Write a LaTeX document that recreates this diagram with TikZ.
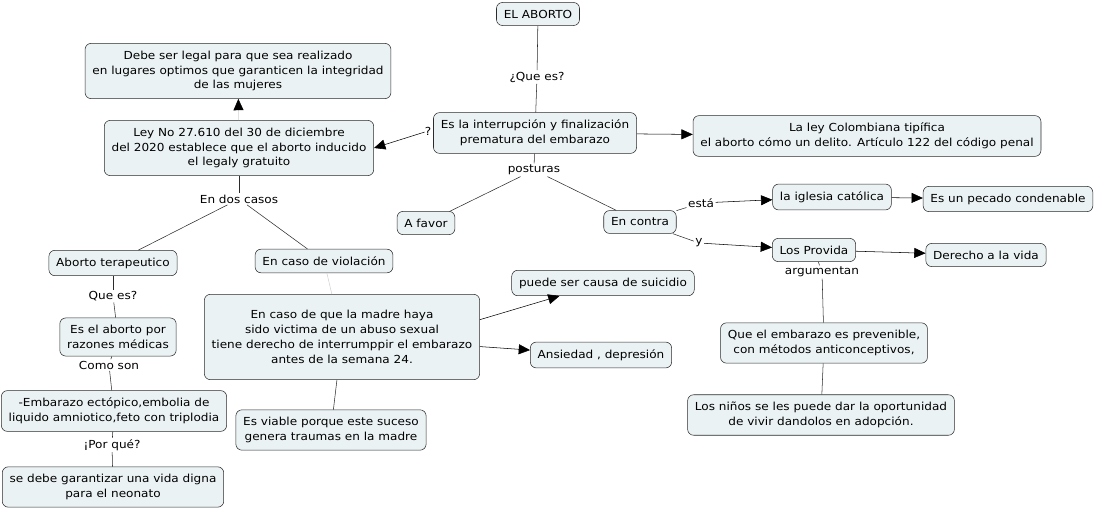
\documentclass[tikz,border=0pt]{standalone}
\usepackage{fontspec}
\setmainfont{DejaVu Sans}[FakeStretch=1.09]
\usepackage{xcolor}
\usetikzlibrary{arrows.meta,positioning}
\definecolor{boxfill}{HTML}{EBF2F4}
\definecolor{boxline}{HTML}{2B2B2B}
\newcommand{\mapfont}{\fontsize{8.3}{11.2}\selectfont}

\begin{document}
\begin{tikzpicture}[
  x=0.75pt, y=-0.75pt,
  box/.style={draw=boxline, fill=boxfill, rounded corners=4.5pt, align=center, inner xsep=5.5pt, inner ysep=5.5pt, font=\mapfont},
  lbl/.style={fill=white, inner sep=1pt, font=\mapfont},
  link/.style={draw=boxline},
  faint/.style={draw=black!18},
  arr/.style={-{Triangle[length=8.5pt, width=7.5pt, color=black]}, draw=black}
]
\useasboundingbox (0,0) rectangle (1097,510);
% centre and right
\node[box] (aborto) at (538,14) {EL ABORTO};
\node[box] (interr) at (535,133) {Es la interrupción y finalización\\prematura del embarazo};
\node[box] (ley) at (867,136) {La ley Colombiana tipífica\\el aborto cómo un delito. Artículo 122 del código penal};
\node[box] (afavor) at (426,223) {A favor};
\node[box] (contra) at (640,222) {En contra};
\node[box] (iglesia) at (832,197) {la iglesia católica};
\node[box] (pecado) at (1008,199) {Es un pecado condenable};
\node[box] (provida) at (814,250) {Los Provida};
\node[box] (vida) at (986,255) {Derecho a la vida};
\node[box] (prevenible) at (824,343) {Que el embarazo es prevenible,\\con métodos anticonceptivos,};
\node[box] (adopcion) at (821,415) {Los niños se les puede dar la oportunidad\\de vivir dandolos en adopción.};
% left
\node[box] (legal) at (238,71) {Debe ser legal para que sea realizado\\en lugares optimos que garanticen la integridad\\de las mujeres};
\node[box] (leyno) at (239,148) {Ley No 27.610 del 30 de diciembre\\del 2020 establece que el aborto inducido\\el legaly gratuito};
\node[box] (terapeutico) at (113,263) {Aborto terapeutico};
\node[box] (medicas) at (118,337) {Es el aborto por\\razones médicas};
\node[box] (ectopico) at (114,411) {-Embarazo ectópico,embolia de\\liquido amniotico,feto con triplodia};
\node[box] (neonato) at (113,487) {se debe garantizar una vida digna\\para el neonato};
\node[box] (violacion) at (324,261) {En caso de violación};
\node[box, minimum width=206pt, minimum height=64pt] (madre) at (342,337) {En caso de que la madre haya\\sido victima de un abuso sexual\\tiene derecho de interrumppir el embarazo\\antes de la semana 24.};
\node[box] (viable) at (331,430) {Es viable porque este suceso\\genera traumas en la madre};
\node[box] (suicidio) at (603,283) {puede ser causa de suicidio};
\node[box] (ansiedad) at (601,355) {Ansiedad , depresión};
% linking phrases
\node[lbl] (quees) at (537,77) {¿Que es?};
\node[lbl, inner sep=0pt] (pregunta) at (428,131) {?};
\node[lbl] (posturas) at (534,170) {posturas};
\node[lbl] (esta) at (701,203) {está};
\node[lbl] (y) at (699,243) {y};
\node[lbl] (argumentan) at (822,272) {argumentan};
\node[lbl] (doscasos) at (239,199) {En dos casos};
\node[lbl] (quees2) at (113,296) {Que es?};
\node[lbl] (comoson) at (109,365) {Como son};
\node[lbl] (porque) at (112,445) {¡Por qué?};
% connectors
\draw[link] (aborto) -- (quees);
\draw[link] (quees) -- (interr);
\draw[arr] (pregunta) -- (leyno.east);
\draw[arr] (interr) -- (ley);
\draw[link] (interr) -- (posturas);
\draw[link] (posturas) -- (afavor);
\draw[link] (posturas) -- (contra);
\draw[link] (contra) -- (esta);
\draw[arr] (esta) -- (iglesia);
\draw[link] (contra) -- (y);
\draw[arr] (y) -- (provida);
\draw[arr] (iglesia) -- (pecado);
\draw[arr] (provida) -- (vida);
\draw[link] (provida) -- (argumentan);
\draw[link] (argumentan) -- (prevenible);
\draw[link] (prevenible) -- (adopcion);
\draw[arr, faint] (leyno) -- (legal);
\draw[link] (leyno) -- (doscasos);
\draw[link] (doscasos) -- (terapeutico);
\draw[link] (doscasos) -- (violacion);
\draw[link] (terapeutico) -- (quees2);
\draw[link] (quees2) -- (medicas);
\draw[link] (medicas) -- (comoson);
\draw[link] (comoson) -- (ectopico);
\draw[link] (ectopico) -- (porque);
\draw[link] (porque) -- (neonato);
\draw[faint] (violacion) -- (madre);
\draw[arr] ([yshift=13pt]madre.east) -- (suicidio);
\draw[arr] (madre) -- (ansiedad);
\draw[link] (madre) -- (viable);
\end{tikzpicture}
\end{document}
